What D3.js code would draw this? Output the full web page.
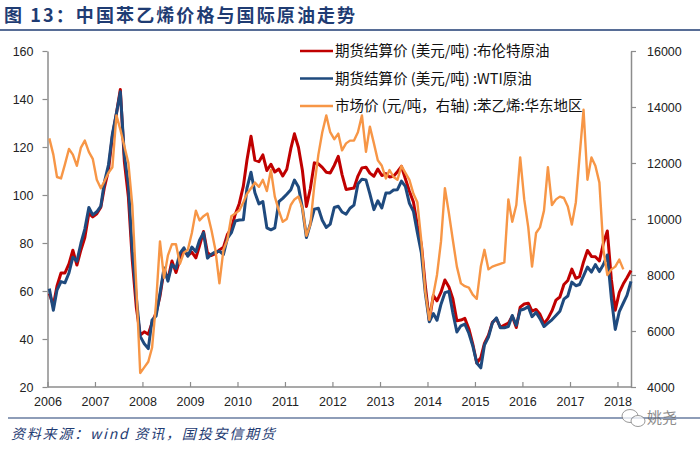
<!DOCTYPE html>
<html><head><meta charset="utf-8">
<script src="https://cdn.jsdelivr.net/npm/d3@7"></script>
<style>
body{margin:0;background:#fff;}
svg{display:block;}
</style></head>
<body><svg id="c" width="700" height="450"></svg>
<script>
// ---- data (monthly, as laid out on the chart's date axis) ----
const startMonth = "2006-01";
const endMonth = "2018-04";
const yearLabels = ["2006","2007","2008","2009","2010","2011","2012","2013","2014","2015","2016","2017","2018"];
const leftTicks = [20,40,60,80,100,120,140,160];
const rightTicks = [4000,6000,8000,10000,12000,14000,16000];
const seriesNames = ["期货结算价 (美元/吨) :布伦特原油","期货结算价 (美元/吨) :WTI原油","市场价 (元/吨，右轴) :苯乙烯:华东地区"];

const brent = [
 59,54,62.1,67.5,67.5,71.3,77.0,70.8,77.1,82.3,92.4,90.9,
 92.2,94.9,103.3,110.4,124.6,134,144,113.9,99.1,72.8,53.2,41.6,
 43,42,46.8,50.9,57.9,68.6,64.9,72.5,67.7,73.2,77.0,74.7,
 76.2,73.8,78.8,84.8,75.9,74.8,75.6,77.1,78.2,83.5,86.1,92.0,
 96.5,103.7,114.6,124.5,114.5,113.9,116.7,110.2,112.8,109.6,110.8,107.9,
 110.7,119.3,125.5,119.8,110.3,95.2,102.6,113.4,113.0,111.5,109.5,109.2,
 112.3,116.1,108.5,102.3,102.6,102.9,107.9,111.3,111.6,109.1,107.8,110.8,
 108.1,108.9,107.5,107.8,109.7,111.9,106.8,101.6,97.1,87.4,79.4,62.3,
 47.8,58.1,55.9,59.5,64.6,61.7,56.8,47.6,47.9,48.6,44.3,38.0,
 30,32.2,38.2,41.6,46.9,48.5,44.9,45.8,46.6,49.5,44.8,53.3,
 54.6,54.9,51.6,52.3,50.3,46.4,48.5,51.7,56.2,57.5,62.7,64.4,
 69.1,65.3,66.0,72.1,76.9,74.4,74.3,72.5,80,85,64.8,52,
 59.4,63.0,65.5,68.5];

const wti = [
 61,52,60.4,63.9,63.4,67.5,74.1,72.4,79.9,85.8,94.8,91.7,
 93.0,95.4,105.5,112.6,125.4,134,143,116.7,104.1,76.6,57.3,41.1,
 38,36,47.9,49.6,59.0,69.6,64.1,71.0,69.4,75.7,78.0,74.5,
 78.3,76.4,81.2,84.3,73.7,75.3,76.3,76.6,75.2,81.9,84.3,89.2,
 89.6,89.7,102.9,109.5,100.9,96.3,97.3,86.3,85.5,86.3,97.2,98.6,
 100.3,102.2,106.2,103.3,94.7,82.3,87.9,94.1,94.5,89.5,86.5,87.9,
 94.8,95.3,92.9,92.0,94.5,95.8,104.6,106.6,106.3,100.5,93.9,97.6,
 94.6,100.8,100.8,102.1,102.2,105.8,103.6,96.5,93.2,84.4,75.8,59.3,
 47.2,50.6,47.8,54.5,59.3,59.8,50.9,42.9,45.5,46.2,42.4,37.2,
 30,28,37.5,40.8,46.7,48.8,44.7,44.7,45.2,49.8,45.7,52.0,
 52.5,53.5,49.3,51.1,48.5,45.2,46.6,48.0,49.8,51.6,56.6,57.9,
 63.7,62.2,62.7,66.3,70.0,67.9,71.0,68.1,71,75,57.0,44,
 51.4,55.0,58.2,64.0];

const styrene = [
 12880,12300,11500,11450,11950,12500,12300,11900,12550,12800,12400,12150,
 11400,11100,11350,11650,11850,13700,13200,12600,12000,10500,7600,4500,
 4700,4900,5400,7000,9200,7900,8700,9100,9100,8400,8800,8900,
 9500,10300,9950,10100,10200,9600,8900,7700,8900,9250,10100,10200,
 10300,10600,10900,11100,11300,11150,11400,11000,11750,10800,10300,9900,
 10000,10500,10700,10800,10400,9400,9800,11200,12300,13100,13700,13100,
 12850,13050,12450,12700,12800,12800,13100,13700,12400,13300,12700,12100,
 11900,11450,11750,11500,11400,11900,11650,11400,10900,10600,9200,7400,
 6400,7300,8000,9200,11100,10200,9250,8300,7700,7600,7550,7300,
 7150,8300,8900,8200,8300,8350,8400,8450,10700,9900,
 10500,12200,10700,9700,8300,9500,9700,10300,11850,10500,10700,10800,
 10750,10450,9800,10600,12200,13900,11400,12200,11900,11300,8900,8000,
 8200,8300,8550,8200];

// ---- chart ----
const svg = d3.select("#c");
const parse = d3.timeParse("%Y-%m");
const months = d3.timeMonth.range(parse(startMonth), d3.timeMonth.offset(parse(endMonth),1));
const dates = months.map(d => d3.timeDay.offset(d, 14));   // mid-month

const x = d3.scaleTime().domain([parse(startMonth), dates[dates.length-1]]).range([47.5, 631]);
const yL = d3.scaleLinear().domain([20,160]).range([387,51]);
const yR = d3.scaleLinear().domain([4000,16000]).range([387,51]);

const navy = "#1F3C73";
const axisCol = "#8C8C8C";
const colors = ["#C00000","#1F4A7E","#F79646"];
const widths = [3,3,2.4];

// title
svg.append("text").attr("x",4).attr("y",22)
  .attr("font-family","'Noto Sans CJK SC', sans-serif").attr("font-weight","bold")
  .attr("font-size",18).attr("letter-spacing",2.1).attr("fill",navy)
  .text("图 13：中国苯乙烯价格与国际原油走势");
svg.append("line").attr("x1",0).attr("x2",700).attr("y1",30).attr("y2",30)
  .attr("stroke",navy).attr("stroke-width",1.3);

// axes
const fontAxis = "'Liberation Sans', Arial, sans-serif";
const gL = svg.append("g").attr("transform","translate(47.5,0)")
  .call(d3.axisLeft(yL).tickValues(leftTicks).tickSize(5).tickSizeOuter(0).tickPadding(9));
const gR = svg.append("g").attr("transform","translate(631,0)")
  .call(d3.axisRight(yR).tickValues(rightTicks).tickFormat(d3.format("d")).tickSize(5).tickSizeOuter(0).tickPadding(11));
const yearDates = yearLabels.map(s => parse(s+"-01"));
const gX = svg.append("g").attr("transform","translate(0,387)")
  .call(d3.axisBottom(x).tickValues(yearDates).tickFormat((d,i)=>yearLabels[i]).tickSize(-5).tickSizeOuter(0).tickPadding(10));

[gL,gR,gX].forEach(g=>{
  g.select(".domain").attr("stroke",axisCol).attr("stroke-width",1.5);
  g.selectAll(".tick line").attr("stroke",axisCol).attr("stroke-width",1.2);
  g.selectAll("text").attr("font-family",fontAxis).attr("font-size",12.5).attr("fill","#222");
});
gX.select(".domain").attr("d","M47.5,0H631");

// lines
const mk = (vals, sc) => d3.line().x((d,i)=>x(dates[i])).y(d=>sc(d)).curve(d3.curveLinear)(vals);
const plot = [[brent,yL],[wti,yL],[styrene,yR]];
plot.forEach((p,k)=>{
  svg.append("path").attr("d",mk(p[0],p[1])).attr("fill","none")
    .attr("stroke",colors[k]).attr("stroke-width",widths[k]).attr("stroke-linejoin","round");
});

// legend
const leg = svg.append("g");
seriesNames.forEach((n,i)=>{
  const yy = 51 + i*27.5;
  leg.append("line").attr("x1",300).attr("x2",333).attr("y1",yy).attr("y2",yy)
    .attr("stroke",colors[i]).attr("stroke-width",2.6);
  leg.append("text").attr("x",335).attr("y",yy+5)
    .attr("font-family","'Noto Sans CJK SC', sans-serif").attr("font-size",14.5).attr("fill","#111")
    .text(n);
});

// footer
svg.append("line").attr("x1",8).attr("x2",700).attr("y1",418).attr("y2",418)
  .attr("stroke",navy).attr("stroke-width",1.2);
svg.append("text").attr("x",11).attr("y",439)
  .attr("font-family","'Noto Sans CJK SC', sans-serif").attr("font-style","italic")
  .attr("font-size",14).attr("letter-spacing",1.8).attr("fill",navy)
  .text("资料来源：wind 资讯，国投安信期货");

// watermark
const wm = svg.append("g").attr("opacity",0.75);
wm.append("ellipse").attr("cx",630).attr("cy",416).attr("rx",8).attr("ry",6.5).attr("fill","#fff").attr("stroke","#777").attr("stroke-width",1);
wm.append("ellipse").attr("cx",638).attr("cy",421).attr("rx",7).attr("ry",5.5).attr("fill","#fff").attr("stroke","#777").attr("stroke-width",1);
wm.append("text").attr("x",647).attr("y",423).attr("font-family","'Noto Sans CJK SC', sans-serif")
  .attr("font-size",15).attr("fill","#666").text("姚尧");
</script></body></html>
